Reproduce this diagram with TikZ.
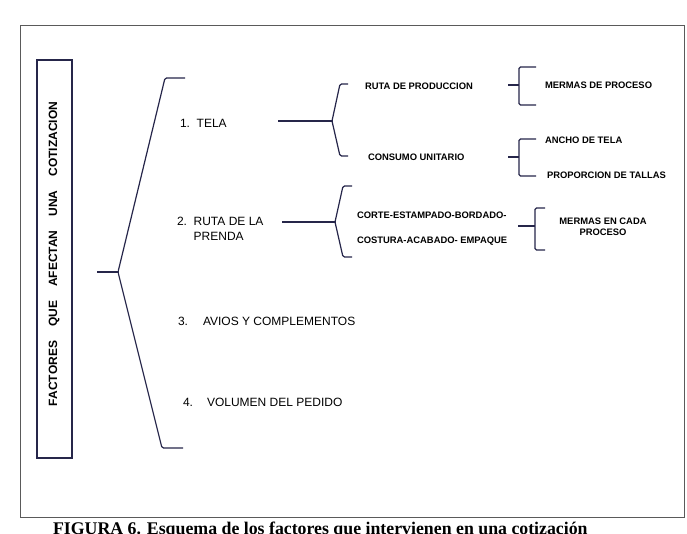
\documentclass[tikz,border=0pt]{standalone}
\usepackage{fontspec}
\setmainfont{Liberation Sans}
\newfontfamily\capfont{Liberation Serif}
\usepackage{tikz}
\usetikzlibrary{positioning}
\usepackage{xcolor}
\definecolor{LineNavy}{HTML}{26264A}
\definecolor{FrameGray}{HTML}{5A5A5A}

\begin{document}
\begin{tikzpicture}[x=1pt,y=-1pt,
  every node/.style={inner sep=0pt,outer sep=0pt},
  item/.style={anchor=west,font=\fontsize{12}{15}\selectfont},
  subitem/.style={anchor=west,font=\fontsize{9.4}{11.7}\selectfont\bfseries},
  llave/.style={draw=LineNavy,line width=1.2pt,rounded corners=1.5pt}]
\useasboundingbox (0,0) rectangle (687,534);
\fill[white] (0,0) rectangle (687,534);
\draw[FrameGray,line width=0.9pt] (20,25) rectangle (684,517);

% titulo vertical
\node[draw=LineNavy,line width=1.2pt,minimum width=35pt,minimum height=398pt] (caja) at (54.5,259) {};
\node[rotate=90,font=\fontsize{12}{14}\selectfont\bfseries] (titulo) at (54,254)
  {FACTORES\hspace{14pt}QUE\hspace{14pt}AFECTAN\hspace{14pt}UNA\hspace{14pt}COTIZACION};

% factores
\node[item] (tela) at (180,123) {1.\ \ TELA};
\node[item,anchor=north west,align=left] (prenda) at (177,217.5) {2.\ \ RUTA DE LA\\\phantom{2.\ \ }PRENDA};
\node[item] (avios) at (178,321) {3.\hspace{15pt}AVIOS Y COMPLEMENTOS};
\node[item] (volumen) at (183,402) {4.\hspace{14pt}VOLUMEN DEL PEDIDO};

\node[subitem] (produccion) at (365,86) {RUTA DE PRODUCCION};
\node[subitem] (consumo) at (368,157) {CONSUMO UNITARIO};
\node[subitem] (mermas) at (545,85) {MERMAS DE PROCESO};
\node[subitem] (ancho) at (545,140) {ANCHO DE TELA};
\node[subitem] (tallas) at (547,175) {PROPORCION DE TALLAS};
\node[subitem] (corte) at (357,215) {CORTE-ESTAMPADO-BORDADO-};
\node[subitem] (costura) at (357,241) {COSTURA-ACABADO- EMPAQUE};
\node[subitem,anchor=north,align=center] (mermascada) at (603,217.7) {MERMAS EN CADA\\PROCESO};

% llave principal
\coordinate (raiz) at (97,272);
\coordinate (raizj) at (118,272);
\draw[llave] (raiz) -- (raizj);
\draw[llave] (185,78) -- (165,78) -- (raizj) -- (162,448) -- (183,448);

% llave tela
\coordinate (telaa) at (278,121);
\coordinate (telaj) at (332,121);
\draw[llave] (telaa) -- (telaj);
\draw[llave] (348,84) -- (340,84) -- (telaj) -- (340,156) -- (348,156);

\coordinate (proda) at (508,85);
\coordinate (prodj) at (519,85);
\draw[llave] (proda) -- (prodj);
\draw[llave] (536,67) -- (519,67) -- (prodj) -- (519,105) -- (536,105);

\coordinate (consa) at (508,157);
\coordinate (consj) at (519,157);
\draw[llave] (consa) -- (consj);
\draw[llave] (536,139) -- (519,139) -- (consj) -- (519,176) -- (536,176);

% llave ruta
\coordinate (rutaa) at (282,222);
\coordinate (rutaj) at (335,222);
\draw[llave] (rutaa) -- (rutaj);
\draw[llave] (352,186) -- (343,186) -- (rutaj) -- (343,257) -- (352,257);

\coordinate (cadaa) at (518,226);
\coordinate (cadaj) at (535,226);
\draw[llave] (cadaa) -- (cadaj);
\draw[llave] (545,208) -- (535,208) -- (cadaj) -- (535,250) -- (545,250);

% leyenda
\node[anchor=base west,font=\capfont\fontsize{17.8}{20}\selectfont\bfseries] (leyenda) at (53,534)
  {FIGURA 6. Esquema de los factores que intervienen en una cotización};
\end{tikzpicture}
\end{document}
